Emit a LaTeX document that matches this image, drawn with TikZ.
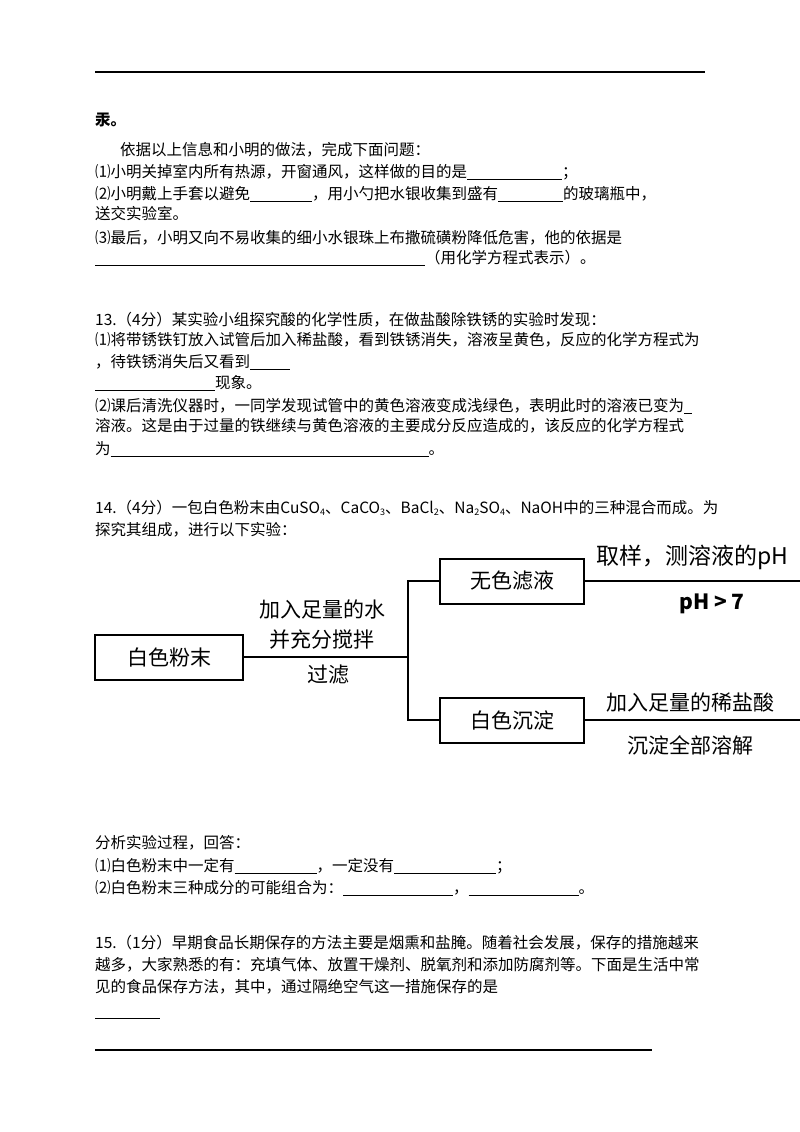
\documentclass[tikz,border=0pt]{standalone}
\usepackage{fontspec}
\setmainfont{Noto Sans CJK SC}
\newcommand{\blank}[1]{\rule[-2pt]{#1pt}{0.7pt}}
\newcommand{\chsub}[1]{\raisebox{-2pt}{\fontsize{9}{9}\selectfont #1}}
\begin{document}
\begin{tikzpicture}[x=1pt,y=-1pt,
  t/.style={anchor=west,inner sep=0,font=\fontsize{15.5}{17}\selectfont},
  box/.style={draw,line width=2pt,minimum height=45pt,inner sep=0,font=\fontsize{21}{24}\selectfont},
  lab/.style={inner sep=0,font=\fontsize{21}{24}\selectfont},
  ln/.style={line width=2pt}]
\useasboundingbox (0,0) rectangle (800,1132);
\begin{scope}
\clip (0,0) rectangle (800,1132);
\draw[line width=1.2pt] (95,72) -- (705,72);
\node[t] (a0) at (95,120) {\textbf{汞。}};
\node[t] (a1) at (120,150) {依据以上信息和小明的做法，完成下面问题：};
\node[t] (a2) at (95,172) {⑴小明关掉室内所有热源，开窗通风，这样做的目的是\blank{95}；};
\node[t] (a3) at (95,194) {⑵小明戴上手套以避免\blank{62}，用小勺把水银收集到盛有\blank{65}的玻璃瓶中，};
\node[t] (a4) at (95,214) {送交实验室。};
\node[t] (a5) at (95,238) {⑶最后，小明又向不易收集的细小水银珠上布撒硫磺粉降低危害，他的依据是};
\node[t] (a6) at (95,258) {\blank{330}（用化学方程式表示）。};
\node[t] (b0) at (95,320) {13.（4分）某实验小组探究酸的化学性质，在做盐酸除铁锈的实验时发现：};
\node[t] (b1) at (95,340) {⑴将带锈铁钉放入试管后加入稀盐酸，看到铁锈消失，溶液呈黄色，反应的化学方程式为};
\node[t] (b2) at (95,362) {，待铁锈消失后又看到\blank{40}};
\node[t] (b3) at (95,383) {\blank{120}现象。};
\node[t] (b4) at (95,406) {⑵课后清洗仪器时，一同学发现试管中的黄色溶液变成浅绿色，表明此时的溶液已变为\blank{8}};
\node[t] (b5) at (95,426) {溶液。这是由于过量的铁继续与黄色溶液的主要成分反应造成的，该反应的化学方程式};
\node[t] (b6) at (95,449) {为\blank{318}。};
\node[t] (c0) at (95,508) {14.（4分）一包白色粉末由CuSO\chsub{4}、CaCO\chsub{3}、BaCl\chsub{2}、Na\chsub{2}SO\chsub{4}、NaOH中的三种混合而成。为};
\node[t] (c1) at (95,530) {探究其组成，进行以下实验：};
% diagram
\node[box,minimum width=148pt] (p) at (169,657) {白色粉末};
\node[box,minimum width=144pt] (f) at (512,581) {无色滤液};
\node[box,minimum width=144pt] (s) at (512,720) {白色沉淀};
\coordinate (j) at (408,657);
\coordinate (fe) at (810,581);
\coordinate (se) at (810,720);
\draw[ln] (p.east) -- (j);
\draw[ln] (j) |- (f.west);
\draw[ln] (j) |- (s.west);
\draw[ln] (f.east) -- (fe);
\draw[ln] (s.east) -- (se);
\node[lab] (l1) at (322,609) {加入足量的水};
\node[lab] (l2) at (322,640) {并充分搅拌};
\node[lab] (l3) at (328,675) {过滤};
\node[lab,anchor=west,font=\fontsize{23}{26}\selectfont] (l4) at (596,557) {取样，测溶液的pH};
\node[lab,font=\fontsize{21}{24}\bfseries\selectfont] (l5) at (712,604) {pH > 7};
\node[lab] (l6) at (690,702) {加入足量的稀盐酸};
\node[lab] (l7) at (690,745) {沉淀全部溶解};
\node[t] (d0) at (95,843) {分析实验过程，回答：};
\node[t] (d1) at (95,866) {⑴白色粉末中一定有\blank{82}，一定没有\blank{102}；};
\node[t] (d2) at (95,888) {⑵白色粉末三种成分的可能组合为：\blank{110}，\blank{110}。};
\node[t] (e0) at (95,943) {15.（1分）早期食品长期保存的方法主要是烟熏和盐腌。随着社会发展，保存的措施越来};
\node[t] (e1) at (95,965) {越多，大家熟悉的有：充填气体、放置干燥剂、脱氧剂和添加防腐剂等。下面是生活中常};
\node[t] (e2) at (95,987) {见的食品保存方法，其中，通过隔绝空气这一措施保存的是};
\draw[line width=0.8pt] (95,1018) -- (160,1018);
\draw[line width=1.2pt] (95,1050) -- (652,1050);
\end{scope}
\end{tikzpicture}
\end{document}
